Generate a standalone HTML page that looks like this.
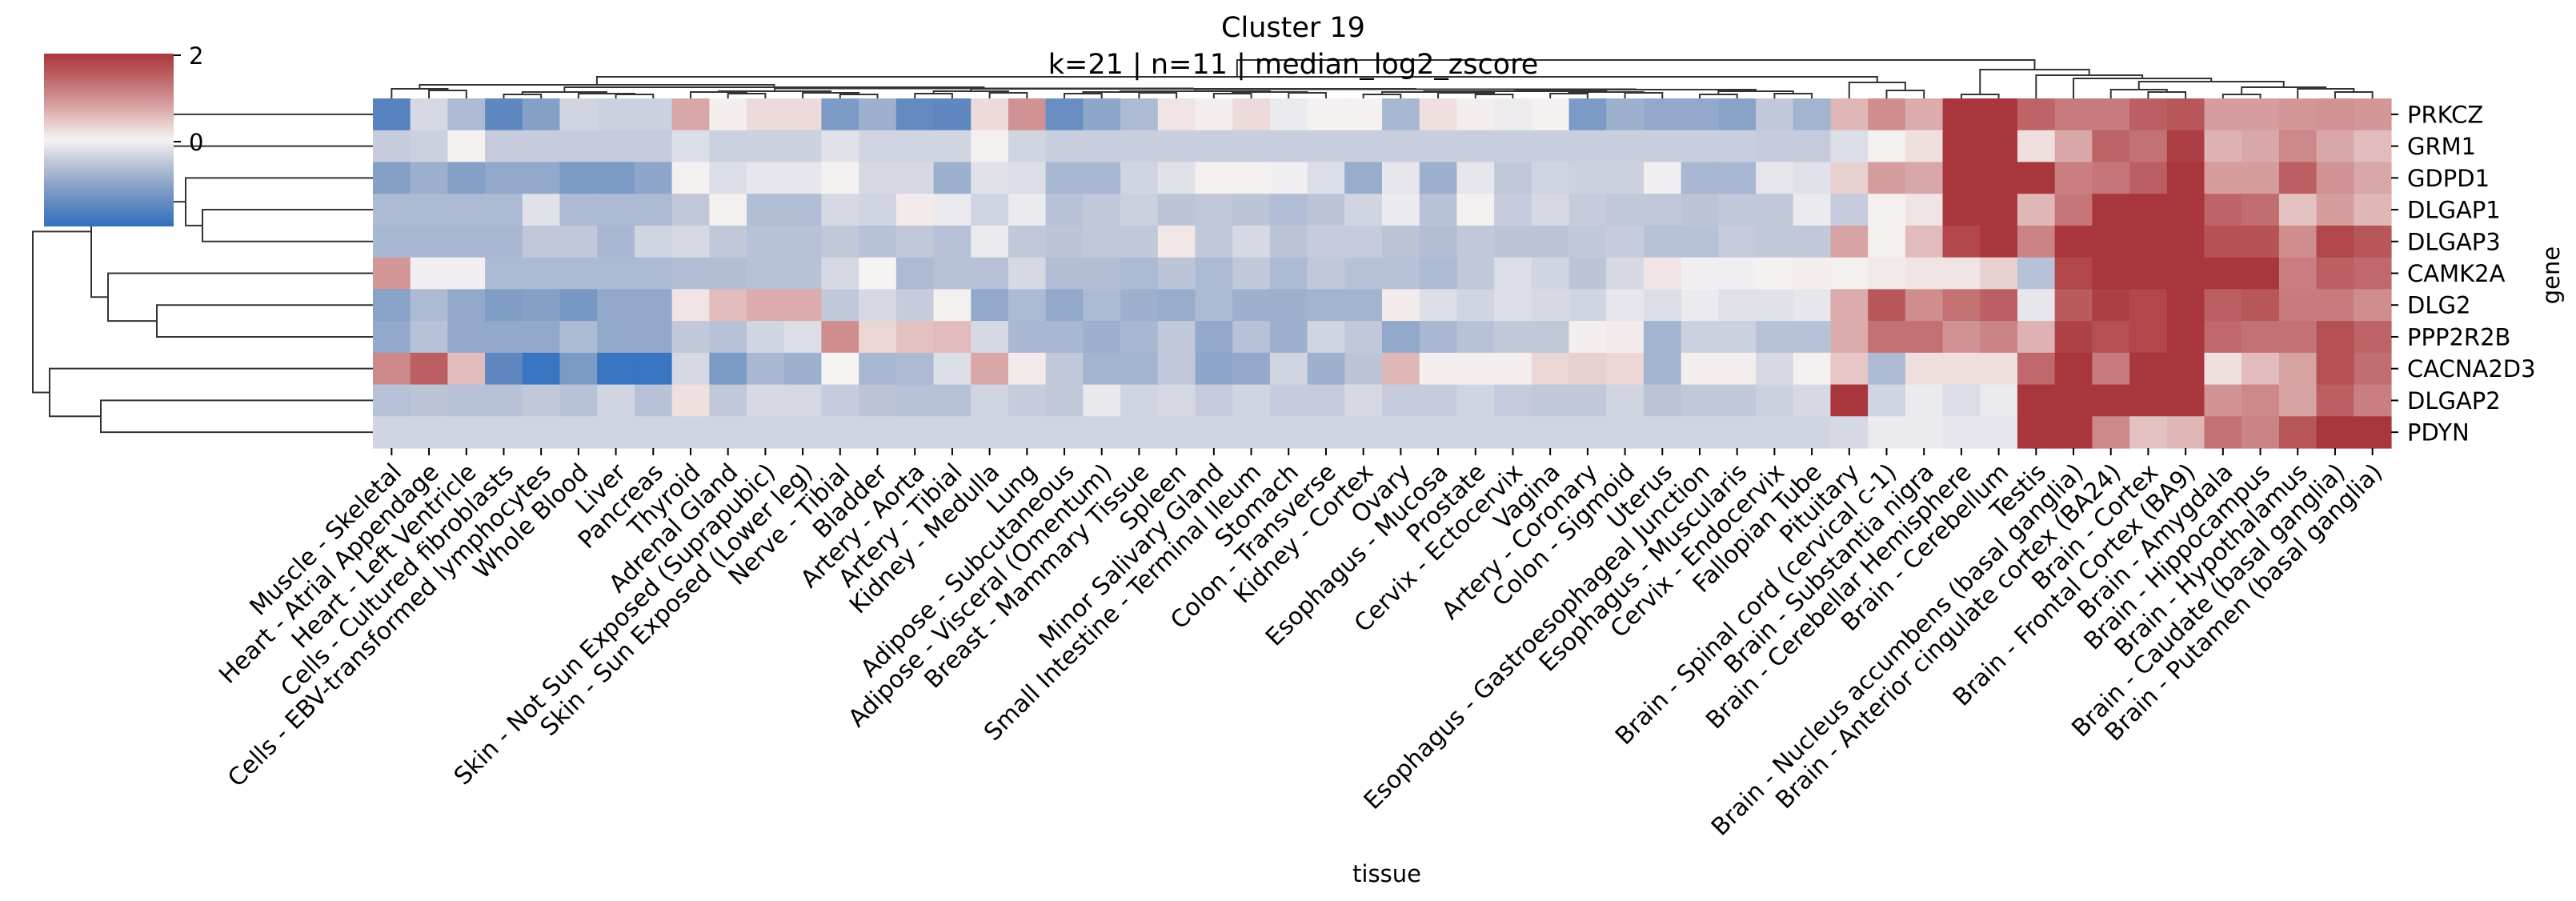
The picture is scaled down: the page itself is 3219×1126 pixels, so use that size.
<!DOCTYPE html>
<html><head><meta charset="utf-8"><style>
html,body{margin:0;padding:0;background:#fff;}
svg{display:block;font-family:"DejaVu Sans","Liberation Sans",sans-serif;}
</style></head><body>
<svg id="s" width="3219" height="1126" viewBox="0 0 3219 1126" xmlns="http://www.w3.org/2000/svg">
<defs><linearGradient id="cb" x1="0" y1="1" x2="0" y2="0">
<stop offset="0" stop-color="#3070c0"/><stop offset="0.125" stop-color="#5f88c0"/><stop offset="0.25" stop-color="#8ea6c9"/><stop offset="0.375" stop-color="#c1c8da"/><stop offset="0.5" stop-color="#f6f3f3"/><stop offset="0.625" stop-color="#e4c1c1"/><stop offset="0.75" stop-color="#cf8d8e"/><stop offset="0.875" stop-color="#bc5f62"/><stop offset="1" stop-color="#a9363c"/>
</linearGradient></defs>
<g id="hm"></g>
<g id="dd" stroke="#333" stroke-width="2" fill="none"></g>
<rect x="55" y="67" width="162" height="216" fill="url(#cb)"/>
<line x1="217" y1="69" x2="226" y2="69" stroke="#000" stroke-width="2"/>
<line x1="217" y1="177" x2="226" y2="177" stroke="#000" stroke-width="2"/>
<text x="236" y="80" font-size="29">2</text>
<text x="236" y="188" font-size="29">0</text>
<text x="1616" y="46" font-size="35" text-anchor="middle">Cluster 19</text>
<text x="1616" y="92" font-size="35" text-anchor="middle">k=21 | n=11 | median_log2_zscore</text>
<text x="1733" y="1102" font-size="29" text-anchor="middle">tissue</text>
<text transform="translate(3198,344) rotate(-90)" font-size="29" text-anchor="middle">gene</text>
<g id="lb" font-size="30"></g>
</svg>
<script>
var V=[
[-1.6,-0.3,-0.7,-1.5,-1.1,-0.35,-0.4,-0.4,0.75,0.05,0.25,0.25,-1.2,-0.85,-1.45,-1.5,0.25,0.95,-1.4,-1.0,-0.7,0.15,0.05,0.25,-0.1,0.02,0.02,-0.75,0.2,0.05,-0.08,0.02,-1.2,-0.85,-0.95,-0.95,-1.05,-0.5,-0.8,0.6,1.0,0.7,2.2,2.2,1.45,1.2,1.2,1.5,1.6,0.85,0.85,0.9,0.95,0.9],
[-0.45,-0.4,0.02,-0.45,-0.45,-0.45,-0.45,-0.45,-0.25,-0.4,-0.4,-0.4,-0.2,-0.35,-0.35,-0.35,0.03,-0.35,-0.42,-0.42,-0.42,-0.42,-0.42,-0.42,-0.42,-0.42,-0.42,-0.42,-0.42,-0.42,-0.42,-0.42,-0.42,-0.42,-0.42,-0.42,-0.42,-0.45,-0.45,-0.25,0.03,0.2,2.2,2.2,0.2,0.75,1.45,1.3,1.9,0.65,0.75,1.05,0.75,0.55],
[-1.1,-0.85,-1.1,-0.95,-0.95,-1.2,-1.2,-1.0,0.03,-0.25,-0.15,-0.15,0.03,-0.3,-0.3,-0.85,-0.2,-0.25,-0.75,-0.75,-0.35,-0.2,0.03,0.03,-0.05,-0.25,-0.9,-0.15,-0.85,-0.15,-0.5,-0.35,-0.4,-0.4,-0.05,-0.75,-0.75,-0.15,-0.2,0.35,0.85,0.75,2.2,2.2,2.2,1.15,1.25,1.5,2.2,0.85,0.85,1.5,0.95,0.75],
[-0.7,-0.7,-0.7,-0.7,-0.2,-0.7,-0.7,-0.7,-0.5,0.03,-0.65,-0.65,-0.3,-0.35,0.08,-0.1,-0.35,-0.1,-0.6,-0.5,-0.4,-0.55,-0.5,-0.55,-0.65,-0.55,-0.35,-0.1,-0.6,0.03,-0.45,-0.3,-0.45,-0.5,-0.5,-0.55,-0.5,-0.5,-0.1,-0.45,0.03,0.15,2.2,2.2,0.6,1.25,2.2,2.2,2.2,1.45,1.35,0.5,0.85,0.6],
[-0.75,-0.75,-0.75,-0.75,-0.5,-0.5,-0.75,-0.35,-0.3,-0.5,-0.6,-0.6,-0.5,-0.6,-0.5,-0.6,-0.1,-0.5,-0.55,-0.5,-0.5,0.12,-0.5,-0.3,-0.55,-0.45,-0.45,-0.55,-0.65,-0.5,-0.55,-0.55,-0.5,-0.45,-0.6,-0.6,-0.45,-0.5,-0.5,0.8,0.03,0.55,1.8,2.0,1.1,2.0,2.0,2.2,2.2,1.65,1.65,1.0,1.8,1.6],
[0.9,-0.05,-0.05,-0.7,-0.7,-0.7,-0.7,-0.7,-0.65,-0.65,-0.6,-0.6,-0.3,0.0,-0.7,-0.6,-0.6,-0.3,-0.65,-0.65,-0.7,-0.55,-0.7,-0.5,-0.7,-0.5,-0.6,-0.6,-0.7,-0.5,-0.25,-0.35,-0.55,-0.3,0.15,-0.05,-0.05,0.02,0.05,0.03,0.1,0.15,0.15,0.35,-0.6,1.8,2.2,2.2,2.2,2.2,2.2,1.15,1.5,1.4],
[-1.05,-0.7,-0.95,-1.15,-1.1,-1.25,-0.95,-0.95,0.15,0.55,0.7,0.7,-0.5,-0.3,-0.45,0.03,-0.95,-0.7,-0.95,-0.7,-0.85,-0.9,-0.7,-0.85,-0.85,-0.8,-0.8,0.08,-0.25,-0.35,-0.25,-0.3,-0.35,-0.15,-0.25,-0.1,-0.2,-0.2,-0.15,0.7,1.6,1.0,1.3,1.5,-0.15,1.55,1.9,1.8,2.1,1.5,1.6,1.2,1.2,1.0],
[-0.95,-0.6,-0.95,-0.95,-0.95,-0.7,-0.95,-0.95,-0.5,-0.6,-0.35,-0.25,1.0,0.3,0.5,0.55,-0.3,-0.75,-0.75,-0.85,-0.75,-0.5,-0.95,-0.6,-0.85,-0.35,-0.5,-0.95,-0.75,-0.6,-0.5,-0.5,0.05,0.08,-0.8,-0.4,-0.4,-0.6,-0.6,0.7,1.3,1.3,0.95,1.1,0.65,1.85,1.7,1.8,2.1,1.4,1.3,1.3,1.7,1.45],
[1.05,1.5,0.55,-1.5,-1.9,-1.2,-1.9,-1.9,-0.3,-1.2,-0.75,-0.85,0.0,-0.75,-0.7,-0.25,0.75,0.08,-0.5,-0.8,-0.8,-0.5,-1.0,-0.95,-0.35,-0.85,-0.55,0.6,0.05,0.05,0.05,0.3,0.35,0.3,-0.8,0.05,0.05,-0.3,0.03,0.45,-0.7,0.2,0.2,0.2,1.4,2.1,1.2,2.2,2.2,0.2,0.55,0.8,1.7,1.35],
[-0.6,-0.55,-0.6,-0.6,-0.5,-0.6,-0.35,-0.6,0.2,-0.5,-0.3,-0.3,-0.45,-0.55,-0.6,-0.6,-0.35,-0.45,-0.5,-0.12,-0.35,-0.3,-0.45,-0.35,-0.45,-0.45,-0.3,-0.45,-0.45,-0.35,-0.45,-0.5,-0.5,-0.35,-0.55,-0.5,-0.5,-0.4,-0.3,2.0,-0.35,-0.1,-0.25,-0.1,2.2,2.2,2.2,2.2,2.2,0.95,1.05,0.8,1.5,1.15],
[-0.35,-0.35,-0.35,-0.35,-0.35,-0.35,-0.35,-0.35,-0.35,-0.35,-0.35,-0.35,-0.35,-0.35,-0.35,-0.35,-0.35,-0.35,-0.35,-0.35,-0.35,-0.35,-0.35,-0.35,-0.35,-0.35,-0.35,-0.35,-0.35,-0.35,-0.35,-0.35,-0.35,-0.35,-0.35,-0.35,-0.35,-0.35,-0.35,-0.3,-0.1,-0.1,-0.15,-0.15,2.0,2.0,1.05,0.5,0.6,1.3,1.1,1.6,2.2,2.1]];
var S=[[-2,[48,112,192]],[-1.5,[95,136,192]],[-1,[142,166,201]],[-0.5,[193,200,218]],[0,[246,243,243]],[0.5,[228,193,193]],[1,[207,141,142]],[1.5,[188,95,98]],[2,[169,54,60]]];
function col(v){v=Math.max(-2,Math.min(2,v));for(var i=0;i<S.length-1;i++){if(v<=S[i+1][0]){var t=(v-S[i][0])/0.5,a=S[i][1],b=S[i+1][1];return 'rgb('+[0,1,2].map(function(k){return Math.round(a[k]+(b[k]-a[k])*t)}).join(',')+')';}}return 'rgb(169,54,60)';}
var X0=466,CW=(2988-466)/54,Y0=123,RH=(560-123)/11,h='';
for(var r=0;r<11;r++)for(var c=0;c<54;c++){h+='<rect x="'+(X0+c*CW).toFixed(2)+'" y="'+(Y0+r*RH).toFixed(2)+'" width="'+(CW+0.6).toFixed(2)+'" height="'+(RH+0.6).toFixed(2)+'" fill="'+col(V[r][c])+'"/>';}
document.getElementById('hm').innerHTML=h;
var genes=['PRKCZ','GRM1','GDPD1','DLGAP1','DLGAP3','CAMK2A','DLG2','PPP2R2B','CACNA2D3','DLGAP2','PDYN'];
var tis=['Muscle - Skeletal','Heart - Atrial Appendage','Heart - Left Ventricle','Cells - Cultured fibroblasts','Cells - EBV-transformed lymphocytes','Whole Blood','Liver','Pancreas','Thyroid','Adrenal Gland','Skin - Not Sun Exposed (Suprapubic)','Skin - Sun Exposed (Lower leg)','Nerve - Tibial','Bladder','Artery - Aorta','Artery - Tibial','Kidney - Medulla','Lung','Adipose - Subcutaneous','Adipose - Visceral (Omentum)','Breast - Mammary Tissue','Spleen','Minor Salivary Gland','Small Intestine - Terminal Ileum','Stomach','Colon - Transverse','Kidney - Cortex','Ovary','Esophagus - Mucosa','Prostate','Cervix - Ectocervix','Vagina','Artery - Coronary','Colon - Sigmoid','Uterus','Esophagus - Gastroesophageal Junction','Esophagus - Muscularis','Cervix - Endocervix','Fallopian Tube','Pituitary','Brain - Spinal cord (cervical c-1)','Brain - Substantia nigra','Brain - Cerebellar Hemisphere','Brain - Cerebellum','Testis','Brain - Nucleus accumbens (basal ganglia)','Brain - Anterior cingulate cortex (BA24)','Brain - Cortex','Brain - Frontal Cortex (BA9)','Brain - Amygdala','Brain - Hippocampus','Brain - Hypothalamus','Brain - Caudate (basal ganglia)','Brain - Putamen (basal ganglia)'];
var l='';
for(var r=0;r<11;r++){var y=Y0+(r+0.5)*RH;l+='<line x1="2988" y1="'+y+'" x2="2997" y2="'+y+'" stroke="#000" stroke-width="2"/><text x="3008" y="'+(y+10.5)+'" font-size="29">'+genes[r]+'</text>';}
for(var c=0;c<54;c++){var x=X0+(c+0.5)*CW;l+='<line x1="'+x+'" y1="560" x2="'+x+'" y2="569" stroke="#000" stroke-width="2"/><text text-anchor="end" transform="translate('+(x+14)+',592) rotate(-45)">'+tis[c]+'</text>';}
document.getElementById('lb').innerHTML=l;
function cx(i){return X0+(i+0.5)*CW;}
var G=[[35,36,118],[37,38,117],114];
var F=[[[26,27,118],[28,[29,30,118],116],115],[[31,32,117],[33,34,116],115],114];
var E=[[[18,19,117],[20,21,116],115],[[22,23,117],[24,25,116],115],114];
var D=[[14,15,117],[16,17,116],114];
var C=[[8,[9,10,117],115],[11,[12,13,118],116],114];
var B=[[3,4,118],[5,[6,7,118],117],115];
var A=[0,[1,2,113],111];
var L=[[A,[B,[C,[D,[E,[F,G,112],111.5],111],110.5],109],106],[39,[40,41,113],103],96];
var R=[[42,43,118],[44,[45,[[46,[47,48,115],112],[[49,50,118],[51,[52,53,115],111],109],102],98],94],87];
var T=[L,R,75];
var d='';
function draw(n){if(typeof n==='number')return [cx(n),Y0];var a=draw(n[0]),b=draw(n[1]),y=n[2];d+='<path d="M'+a[0]+' '+a[1]+'V'+y+'H'+b[0]+'V'+b[1]+'"/>';return [(a[0]+b[0])/2,y];}
draw(T);
function ry(i){return Y0+(i+0.5)*RH;}
var RT=[[[[0,1,150],[2,[3,4,253],232],125],[5,[6,7,196],135],114],[8,[9,10,126],62],41];
function drawR(n){if(typeof n==='number')return [466,ry(n)];var a=drawR(n[0]),b=drawR(n[1]),x=n[2];d+='<path d="M'+a[0]+' '+a[1]+'H'+x+'V'+b[1]+'H'+b[0]+'"/>';return [x,(a[1]+b[1])/2];}
drawR(RT);
document.getElementById('dd').innerHTML=d;
</script>
</body></html>
